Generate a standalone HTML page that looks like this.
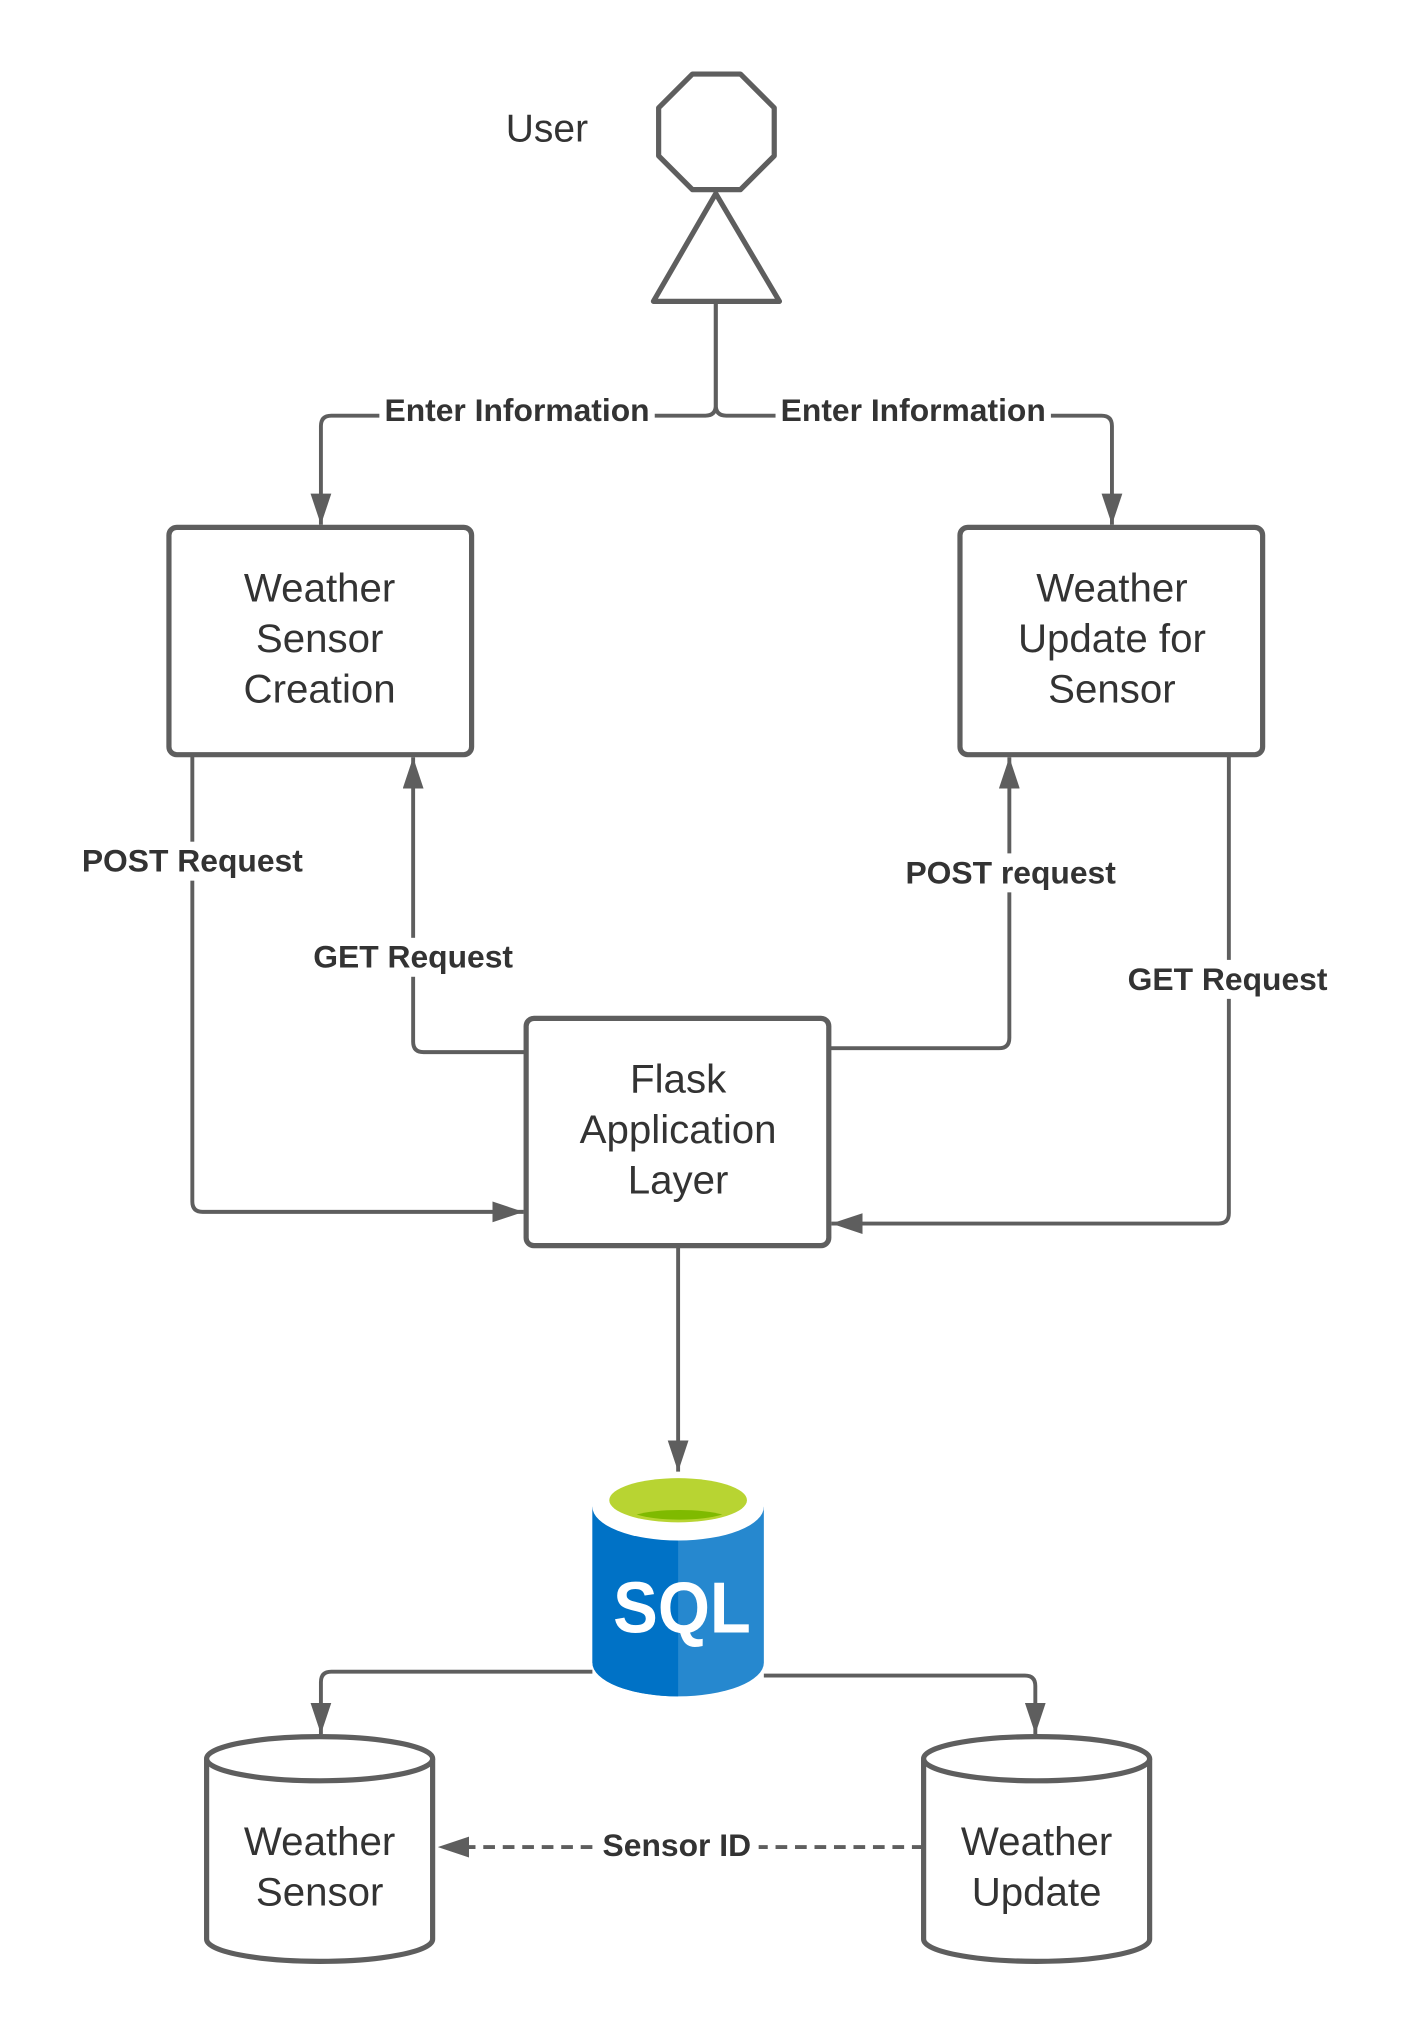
<!DOCTYPE html>
<html><head><meta charset="utf-8"><style>html,body{margin:0;padding:0;background:#fff}svg{display:block}</style></head><body>
<svg width="1403" height="2025" viewBox="0 0 1080 1559" xmlns="http://www.w3.org/2000/svg" font-family="Liberation Sans, sans-serif">
<defs>
<marker id="b" markerWidth="24" markerHeight="16" refX="24" refY="8" orient="auto" markerUnits="userSpaceOnUse"><path d="M0,0 L24,8 L0,16 z" fill="#5e5e5e"/></marker></defs>
<g stroke="#5e5e5e" fill="none" stroke-linejoin="round">
<text x="421" y="109" font-size="30" fill="#333" stroke="none" text-anchor="middle">User</text>
<polygon points="533,57 570,57 596,83 596,120 570,146 533,146 507,120 507,83" stroke-width="4"/>
<polygon points="551,149 600,232 503,232" stroke-width="4"/>
<g stroke-width="3">
<path d="M551,232 V312 Q551,320 543,320 H255 Q247,320 247,328 V404" marker-end="url(#b)"/>
<path d="M551,232 V312 Q551,320 559,320 H848 Q856,320 856,328 V404" marker-end="url(#b)"/>
<path d="M148,581 V925 Q148,933 156,933 H403" marker-end="url(#b)"/>
<path d="M405,810 H326 Q318,810 318,802 V583" marker-end="url(#b)"/>
<path d="M638,807 H769 Q777,807 777,799 V583" marker-end="url(#b)"/>
<path d="M946,581 V934 Q946,942 938,942 H640" marker-end="url(#b)"/>
<path d="M522,959 V1133" marker-end="url(#b)"/>
<path d="M456,1287 H255 Q247,1287 247,1295 V1335" marker-end="url(#b)"/>
<path d="M588,1290 H789 Q797,1290 797,1298 V1335" marker-end="url(#b)"/>
<path d="M711,1422 H337" stroke-dasharray="9,6" marker-end="url(#b)"/>
</g>
<rect x="130" y="406" width="233" height="175" rx="6" stroke-width="4"/>
<rect x="739" y="406" width="233" height="175" rx="6" stroke-width="4"/>
<rect x="405" y="784" width="233" height="175" rx="6" stroke-width="4"/>
<path d="M159,1354 V1493 A87,17 0 0 0 333,1493 V1354" fill="#fff" stroke-width="4"/>
<ellipse cx="246" cy="1354" rx="87" ry="17" fill="#fff" stroke-width="4"/>
<path d="M711,1354 V1493 A87,17 0 0 0 885,1493 V1354" fill="#fff" stroke-width="4"/>
<ellipse cx="798" cy="1354" rx="87" ry="17" fill="#fff" stroke-width="4"/>
</g>
<g font-weight="bold" font-size="24.5" fill="#333" text-anchor="middle">
<rect x="292" y="302" width="212" height="28" fill="#fff"/><text x="398" y="324">Enter Information</text>
<rect x="597" y="302" width="212" height="28" fill="#fff"/><text x="703" y="324">Enter Information</text>
<rect x="58" y="648" width="180" height="30" fill="#fff"/><text x="148" y="671">POST Request</text>
<rect x="236" y="722" width="164" height="30" fill="#fff"/><text x="318" y="745">GET Request</text>
<rect x="693" y="657" width="170" height="30" fill="#fff"/><text x="778" y="680">POST request</text>
<rect x="864" y="739" width="164" height="30" fill="#fff"/><text x="945" y="762">GET Request</text>
<rect x="460" y="1406" width="124" height="30" fill="#fff"/><text x="521" y="1429">Sensor ID</text>
</g>
<g font-size="31" fill="#333" text-anchor="middle">
<text x="246" y="463">Weather</text><text x="246" y="502">Sensor</text><text x="246" y="541">Creation</text>
<text x="856" y="463">Weather</text><text x="856" y="502">Update for</text><text x="856" y="541">Sensor</text>
<text x="522" y="841">Flask</text><text x="522" y="880">Application</text><text x="522" y="919">Layer</text>
<text x="246" y="1428">Weather</text><text x="246" y="1467">Sensor</text>
<text x="798" y="1428">Weather</text><text x="798" y="1467">Update</text>
</g>
<path d="M456,1160 V1280 A66,26 0 0 0 588,1280 V1160 Z" fill="#2688cf"/>
<path d="M456,1160 V1280 A66,26 0 0 0 522,1306 V1160 Z" fill="#0072c6"/>
<ellipse cx="522" cy="1160" rx="66" ry="26" fill="#fff"/>
<ellipse cx="522" cy="1155" rx="53" ry="17" fill="#b8d432"/>
<path d="M490,1166 A40,8 0 0 1 556,1166 A40,9 0 0 1 490,1166Z" fill="#7fba00"/>
<text x="525" y="1257" font-size="56" font-weight="bold" fill="#fff" text-anchor="middle" textLength="106" lengthAdjust="spacingAndGlyphs">SQL</text>
</svg>
</body></html>
